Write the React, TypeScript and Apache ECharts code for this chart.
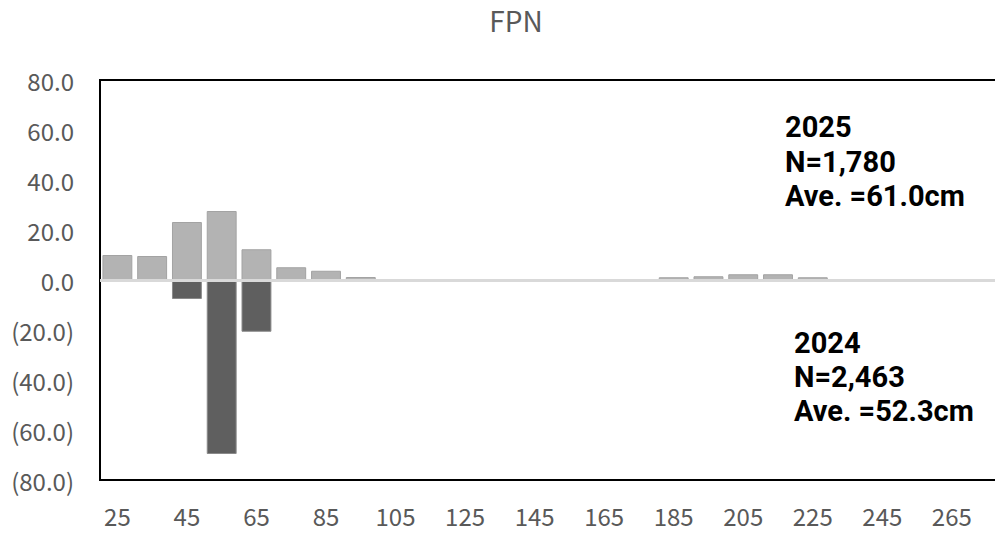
import React, { useEffect, useRef } from "react";
import * as echarts from "echarts";

const categories = [
  "25", "35", "45", "55", "65", "75", "85", "95", "105", "115", "125", "135", "145",
  "155", "165", "175", "185", "195", "205", "215", "225", "235", "245", "255", "265", "275",
];
const values2025 = [
  10.0, 9.6, 23.2, 27.6, 12.3, 5.1, 3.7, 1.2, 0, 0, 0, 0, 0,
  0, 0, 0, 1.1, 1.5, 2.3, 2.3, 1.1, 0, 0, 0, 0, 0,
];
const values2024 = [
  0, 0, -7.6, -69.6, -20.7, -0.8, 0, 0, 0, 0, 0, 0, 0,
  0, 0, 0, 0, 0, 0, 0, 0, 0, 0, 0, 0, 0,
];
const yTicks = { min: -80, max: 80, interval: 20 };
const title = "FPN";
const note2025 = ["2025", "N=1,780", "Ave. =61.0cm"];
const note2024 = ["2024", "N=2,463", "Ave. =52.3cm"];

const FONT = "'Noto Sans CJK KR', 'Noto Sans', sans-serif";
const NOTE_FONT = "Roboto, 'Liberation Sans', sans-serif";

export default function App() {
  const ref = useRef<HTMLDivElement>(null);
  useEffect(() => {
    if (!ref.current) return;
    const chart = echarts.init(ref.current, undefined, { renderer: "svg" });
    const noteText = (lines: string[], x: number, ys: number[]) =>
      lines.map((t, i) => ({
        type: "text",
        x,
        y: ys[i],
        z: 100,
        style: {
          text: t,
          fill: "#000",
          font: `bold 29px ${NOTE_FONT}`,
          lineHeight: 33,
          verticalAlign: "middle",
          align: "left",
        },
      }));
    chart.setOption({
      animation: false,
      backgroundColor: "#fff",
      title: {
        text: title,
        left: 511,
        top: 1,
        textAlign: "center",
        textStyle: { color: "#595959", fontSize: 28, fontWeight: "normal", fontFamily: FONT },
      },
      grid: {
        left: 100,
        top: 80,
        width: 904,
        height: 400,
        show: true,
        borderColor: "#000",
        borderWidth: 2,
        backgroundColor: "transparent",
      },
      xAxis: {
        type: "category",
        data: categories,
        axisLine: { show: false, onZero: false },
        axisTick: { show: false },
        axisLabel: { interval: 1, color: "#595959", fontSize: 24, margin: 23, fontFamily: FONT },
        splitLine: { show: false },
      },
      yAxis: {
        type: "value",
        min: yTicks.min,
        max: yTicks.max,
        interval: yTicks.interval,
        axisLine: { show: false },
        axisTick: { show: false },
        splitLine: { show: false },
        axisLabel: {
          color: "#595959",
          fontSize: 24,
          margin: 26,
          fontFamily: FONT,
          formatter: (v: number) => (v < 0 ? `(${Math.abs(v).toFixed(1)})` : v.toFixed(1)),
        },
      },
      series: [
        {
          name: "2025",
          type: "bar",
          data: values2025,
          barGap: "-100%",
          barCategoryGap: "14%",
          itemStyle: { color: "#b3b3b3", borderColor: "#a3a3a3", borderWidth: 1 },
        },
        {
          name: "2024",
          type: "bar",
          data: values2024,
          barGap: "-100%",
          barCategoryGap: "14%",
          itemStyle: { color: "#5f5f5f", borderColor: "#8a8a8a", borderWidth: 1 },
          markLine: {
            silent: true,
            symbol: ["none", "none"],
            label: { show: false },
            lineStyle: { color: "#d9d9d9", width: 3, type: "solid" },
            data: [{ yAxis: 0 }],
            z: 10,
          },
        },
      ],
      graphic: [
        ...noteText(note2025, 785, [127, 162, 196]),
        ...noteText(note2024, 794, [343, 377, 411]),
      ],
    });
    return () => chart.dispose();
  }, []);
  return (
    <div style={{ position: "fixed", left: 0, top: 0, width: 995, height: 536, overflow: "hidden", background: "#fff" }}>
      <div ref={ref} style={{ width: 1012, height: 536 }} />
    </div>
  );
}
